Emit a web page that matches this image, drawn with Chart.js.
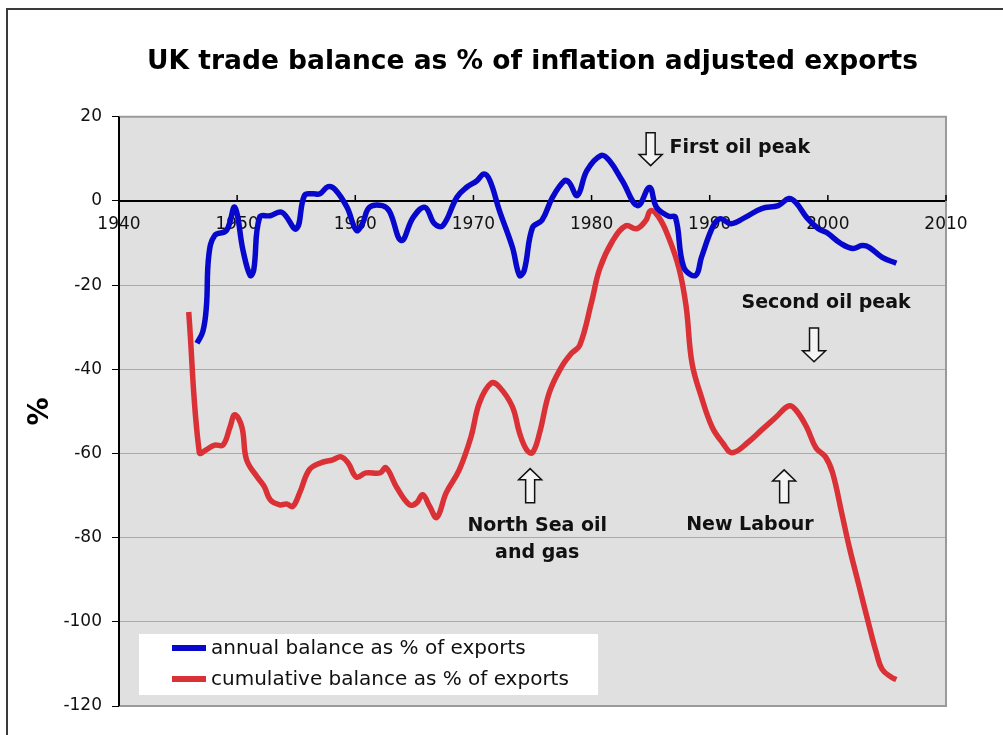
<!DOCTYPE html>
<html>
<head>
<meta charset="utf-8">
<script src="https://cdn.jsdelivr.net/npm/chart.js@4/dist/chart.umd.min.js"></script>
<style>
html,body{margin:0;padding:0;background:#fff;}
#wrap{position:relative;width:1003px;height:735px;}
</style>
</head>
<body>
<div id="wrap"><canvas id="c" width="1003" height="735"></canvas></div>
<script>
// ---- data ----
const chartTitle = 'UK trade balance as % of inflation adjusted exports';
const yAxisTitle = '%';
const seriesLabels = ['annual balance as % of exports', 'cumulative balance as % of exports'];

const annualYears = [1946.6, 1947.1, 1947.4, 1947.6, 1948.1, 1949.1, 1949.8, 1950.5, 1951.1, 1951.4, 1951.9, 1952.8, 1953.8, 1955.0, 1955.7, 1956.4, 1957.0, 1957.7, 1958.3, 1959.3, 1960.1, 1960.6, 1961.2, 1962.3, 1962.9, 1963.9, 1964.9, 1965.9, 1966.7, 1967.4, 1968.6, 1969.4, 1970.3, 1970.9, 1971.4, 1972.2, 1973.3, 1973.9, 1974.3, 1975.0, 1975.8, 1976.7, 1977.7, 1978.1, 1978.8, 1979.6, 1980.8, 1981.5, 1982.6, 1983.9, 1984.9, 1985.5, 1986.5, 1987.1, 1987.8, 1988.8, 1989.3, 1990.3, 1990.9, 1991.8, 1993.0, 1994.4, 1995.8, 1996.7, 1997.3, 1998.2, 1999.2, 1999.9, 2001.1, 2002.1, 2002.9, 2003.5, 2004.6, 2005.8];
const annualValues = [-33.8, -31.0, -25.0, -13.0, -8.2, -7.0, -1.5, -11.8, -17.7, -16.5, -3.9, -3.5, -2.7, -6.6, 1.3, 1.7, 1.7, 3.4, 2.7, -1.5, -7.0, -5.4, -1.5, -1.1, -2.5, -9.4, -3.9, -1.5, -5.4, -5.9, 0.9, 3.2, 4.8, 6.4, 4.8, -2.3, -11.0, -17.7, -16.5, -6.3, -4.6, 0.9, 4.8, 4.4, 1.3, 7.2, 10.8, 9.6, 4.8, -1.1, 3.2, -1.5, -3.6, -3.9, -15.7, -17.7, -13.4, -5.9, -4.2, -5.4, -3.9, -1.8, -1.1, 0.6, -0.4, -3.9, -6.6, -7.5, -10.1, -11.3, -10.6, -11.0, -13.4, -14.8];

const cumulativeYears = [1945.9, 1946.8, 1947.4, 1948.1, 1948.8, 1949.4, 1949.8, 1950.4, 1950.8, 1951.7, 1952.3, 1952.8, 1953.6, 1954.2, 1954.7, 1955.3, 1956.1, 1957.0, 1958.1, 1958.8, 1959.4, 1960.1, 1960.9, 1962.1, 1962.6, 1963.5, 1964.6, 1965.2, 1965.7, 1966.3, 1966.9, 1967.7, 1968.8, 1969.8, 1970.5, 1971.5, 1972.2, 1973.3, 1973.9, 1974.5, 1975.0, 1975.6, 1976.4, 1977.4, 1978.3, 1979.0, 1980.0, 1980.7, 1981.8, 1982.9, 1983.8, 1984.6, 1985.0, 1985.7, 1986.5, 1987.4, 1988.0, 1988.5, 1989.3, 1990.2, 1991.1, 1991.9, 1993.3, 1994.4, 1995.6, 1996.7, 1997.3, 1998.2, 1999.0, 1999.8, 2000.4, 2001.2, 2001.8, 2002.6, 2003.5, 2004.1, 2004.6, 2005.4, 2005.8];
const cumulativeValues = [-26.4, -59.8, -59.1, -58.0, -58.0, -53.7, -50.8, -53.7, -61.5, -65.6, -67.9, -71.0, -72.2, -72.0, -72.6, -69.3, -63.9, -62.3, -61.5, -60.8, -62.3, -65.6, -64.6, -64.6, -63.4, -68.0, -72.2, -71.7, -69.8, -72.6, -75.2, -69.3, -63.9, -56.0, -48.0, -43.3, -44.2, -48.9, -55.1, -59.1, -59.8, -55.1, -45.7, -39.7, -36.2, -34.3, -24.0, -16.0, -9.4, -5.9, -6.6, -4.6, -2.3, -3.9, -8.5, -16.0, -25.0, -38.5, -46.6, -53.7, -57.5, -59.8, -57.2, -54.4, -51.4, -48.7, -49.7, -53.7, -58.7, -60.8, -64.6, -74.5, -82.1, -91.0, -101.0, -107.3, -111.3, -113.2, -113.7];

const xTickValues = [1940, 1950, 1960, 1970, 1980, 1990, 2000, 2010];
const yTickValues = [-120, -100, -80, -60, -40, -20, 0, 20];

// annotations (data coordinates)
const annotationTexts = [
  {lines: ['First oil peak'], x: 1986.6, y: 12.6, align: 'left'},
  {lines: ['Second oil peak'], x: 1999.85, y: -24.3, align: 'center'},
  {lines: ['North Sea oil', 'and gas'], x: 1975.4, y: -77.2, align: 'center'},
  {lines: ['New Labour'], x: 1993.4, y: -76.9, align: 'center'}
];
const annotationArrows = [
  {x: 1985.0, from: 16.2, to: 8.4},
  {x: 1998.83, from: -30.2, to: -38.2},
  {x: 1974.8, from: -71.7, to: -63.6},
  {x: 1996.3, from: -71.7, to: -63.9}
];

const FONT = '"DejaVu Sans", Verdana, sans-serif';
const colors = ['#0808cc', '#da3137'];

function toPoints(xs, ys){ return xs.map((x,i)=>({x:x, y:ys[i]})); }

const framePlugin = {
  id: 'frame',
  beforeDraw(chart){
    const {ctx, chartArea:a} = chart;
    ctx.save();
    ctx.fillStyle = '#e0e0e0';
    ctx.fillRect(a.left, a.top, a.right-a.left, a.bottom-a.top);
    ctx.restore();
  },
  afterDraw(chart){
    const {ctx, chartArea:a, scales} = chart;
    ctx.save();
    ctx.strokeStyle = '#9a9a9a';
    ctx.lineWidth = 2;
    ctx.beginPath();
    ctx.moveTo(a.left, a.top); ctx.lineTo(a.right, a.top);
    ctx.lineTo(a.right, a.bottom); ctx.lineTo(a.left, a.bottom);
    ctx.stroke();
    ctx.strokeStyle = '#000';
    ctx.beginPath(); ctx.moveTo(a.left, a.top); ctx.lineTo(a.left, a.bottom); ctx.stroke();
    const xs = scales.x, ys = scales.y;
    const y0 = ys.getPixelForValue(0);
    ctx.lineWidth = 1.5;
    xs.ticks.forEach(t => {
      const px = xs.getPixelForValue(t.value);
      ctx.beginPath(); ctx.moveTo(px, y0); ctx.lineTo(px, y0-6); ctx.stroke();
    });
    ctx.strokeStyle = '#3a3a3a';
    ctx.lineWidth = 2;
    ctx.beginPath();
    ctx.moveTo(7, 735); ctx.lineTo(7, 9); ctx.lineTo(1003, 9);
    ctx.stroke();

    // legend
    const lx = a.left + 20, ly = a.bottom - 72;
    ctx.fillStyle = '#ffffff';
    ctx.fillRect(lx, ly, 459, 61);
    ctx.font = '20px ' + FONT;
    ctx.textBaseline = 'middle';
    ctx.textAlign = 'left';
    chart.data.datasets.forEach((ds, i) => {
      const yy = ly + 14 + i*31;
      ctx.strokeStyle = ds.borderColor;
      ctx.lineWidth = 6;
      ctx.lineCap = 'butt';
      ctx.beginPath(); ctx.moveTo(lx+33, yy); ctx.lineTo(lx+67, yy); ctx.stroke();
      ctx.fillStyle = '#111';
      ctx.fillText(ds.label, lx+72, yy+1);
    });

    // annotations
    ctx.fillStyle = '#111';
    ctx.font = 'bold 19px ' + FONT;
    annotationTexts.forEach(an => {
      ctx.textAlign = an.align;
      const px = xs.getPixelForValue(an.x);
      let py = ys.getPixelForValue(an.y);
      an.lines.forEach((ln, k) => { ctx.fillText(ln, px, py + k*27); });
    });
    annotationArrows.forEach(ar => {
      const cx = xs.getPixelForValue(ar.x);
      const yFrom = ys.getPixelForValue(ar.from);
      const yTo = ys.getPixelForValue(ar.to);
      const dir = yTo > yFrom ? 1 : -1;
      const head = 11, sw = 4.5, hw = 11.5;
      const yHead = yTo - dir*head;
      ctx.beginPath();
      ctx.moveTo(cx - sw, yFrom);
      ctx.lineTo(cx - sw, yHead);
      ctx.lineTo(cx - hw, yHead);
      ctx.lineTo(cx, yTo);
      ctx.lineTo(cx + hw, yHead);
      ctx.lineTo(cx + sw, yHead);
      ctx.lineTo(cx + sw, yFrom);
      ctx.closePath();
      ctx.fillStyle = '#f4f4f4';
      ctx.fill();
      ctx.strokeStyle = '#111';
      ctx.lineWidth = 1.5;
      ctx.lineJoin = 'miter';
      ctx.stroke();
    });
    ctx.restore();
  }
};

new Chart(document.getElementById('c'), {
  type: 'line',
  data: {
    datasets: [
      {label: seriesLabels[0], data: toPoints(annualYears, annualValues), borderColor: colors[0], borderWidth: 5.5, pointRadius: 0, tension: 0.4, fill: false},
      {label: seriesLabels[1], data: toPoints(cumulativeYears, cumulativeValues), borderColor: colors[1], borderWidth: 5.5, pointRadius: 0, tension: 0.4, fill: false}
    ]
  },
  options: {
    responsive: false,
    animation: false,
    devicePixelRatio: 1,
    layout: {padding: {left: 0, right: 57, top: 0, bottom: 29}},
    plugins: {
      legend: {display: false},
      tooltip: {enabled: false},
      title: {
        display: true, text: chartTitle, fullSize: false, color: '#000',
        font: {family: FONT, size: 26.5, weight: 'bold'},
        padding: {top: 46, bottom: 39}
      }
    },
    scales: {
      x: {
        type: 'linear', position: {y: 0}, min: 1940, max: 2010,
        afterBuildTicks: s => { s.ticks = xTickValues.map(v => ({value: v})); },
        ticks: {callback: v => String(v), font: {family: FONT, size: 17}, color: '#111', padding: 13, maxRotation: 0},
        grid: {display: false, drawTicks: false},
        border: {color: '#000', width: 2}
      },
      y: {
        min: -120, max: 20,
        afterBuildTicks: s => { s.ticks = yTickValues.map(v => ({value: v})); },
        afterFit: s => { s.width = 119; },
        ticks: {font: {family: FONT, size: 17}, color: '#111', padding: 10},
        grid: {color: '#ababab', lineWidth: 1, tickColor: '#000', tickLength: 7},
        border: {color: '#000', width: 2},
        title: {display: true, text: yAxisTitle, color: '#000', font: {family: FONT, size: 28, weight: 'bold'}, padding: {top: 24, bottom: 0}}
      }
    }
  },
  plugins: [framePlugin]
});
</script>
</body>
</html>
